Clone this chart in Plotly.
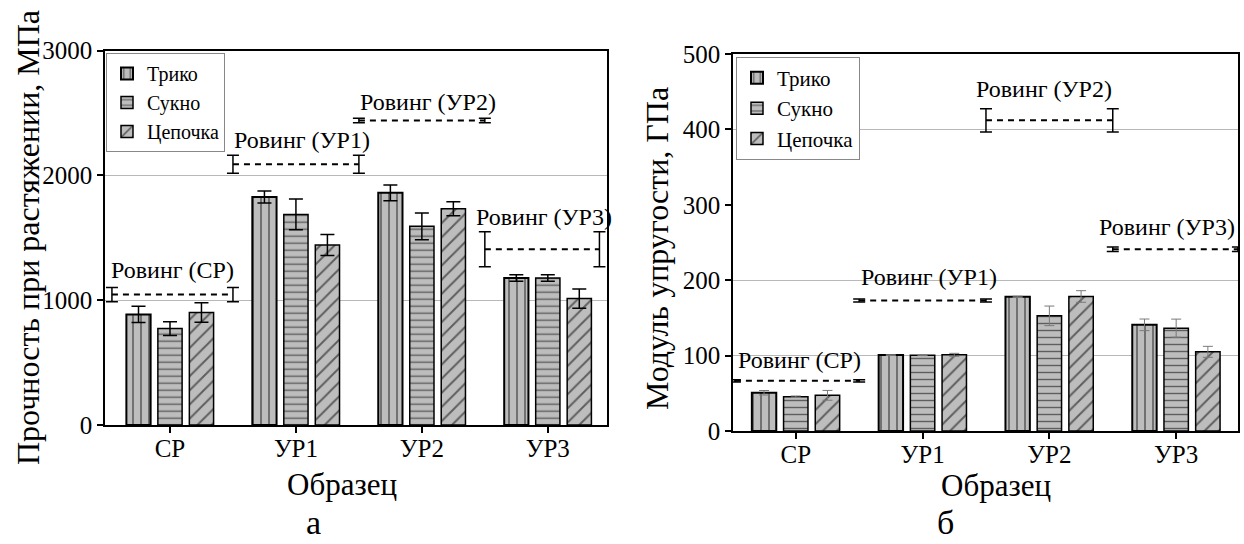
import plotly.graph_objects as go

# ---------------- data ----------------
categories = ["СР", "УР1", "УР2", "УР3"]
series_names = ["Трико", "Сукно", "Цепочка"]

# (a) tensile strength, MPa
strength_triko = [886, 1827, 1861, 1179]
strength_triko_err = [65, 48, 63, 26]
strength_sukno = [773, 1688, 1592, 1179]
strength_sukno_err = [55, 124, 107, 26]
strength_chain = [901, 1443, 1733, 1013]
strength_chain_err = [78, 84, 56, 78]
strength_roving = [1045, 2090, 2440, 1408]
strength_roving_err = [58, 72, 18, 140]

# (б) elastic modulus, GPa
modulus_triko = [50.7, 100.7, 177.9, 140.8]
modulus_triko_err = [3, 0.5, 0.8, 7.7]
modulus_sukno = [45.4, 100.5, 152.7, 136.4]
modulus_sukno_err = [1, 0.5, 13, 12]
modulus_chain = [47.3, 101, 178.4, 105]
modulus_chain_err = [6.5, 2, 7.7, 7.3]
modulus_roving = [66.6, 173, 412, 241]
modulus_roving_err = [1.5, 2, 15.5, 3]

roving_labels = ["Ровинг (СР)", "Ровинг (УР1)", "Ровинг (УР2)", "Ровинг (УР3)"]

# gridlines visible in panel б
modulus_grid = [100, 200, 400]

# ---------------- styling ----------------
W, H = 1244, 544
FONT = "Liberation Serif"
BAR_FILL = "#bdbdbd"
PATTERNS = ["|", "-", "/"]
PAT_SIZE = [8, 7, 10]
GRID = "#b8b8b8"

# plot areas in pixels (left, right, top, bottom)
AREA_A = (105, 607, 50.7, 425)
AREA_B = (733, 1238.3, 54, 431)
XR_A = [-0.516, 3.47]
XR_B = [-0.495, 3.49]


def dom_x(a):
    return [a[0] / W, a[1] / W]


def dom_y(a):
    return [1 - a[3] / H, 1 - a[2] / H]


fig = go.Figure()
idx = list(range(len(categories)))

sets = [
    ("x", "y", "legend",
     [strength_triko, strength_sukno, strength_chain],
     [strength_triko_err, strength_sukno_err, strength_chain_err],
     strength_roving, strength_roving_err, XR_A, 0.055, 0.06,
     dict(color="black", thickness=1.5, width=7)),
    ("x2", "y2", "legend2",
     [modulus_triko, modulus_sukno, modulus_chain],
     [modulus_triko_err, modulus_sukno_err, modulus_chain_err],
     modulus_roving, modulus_roving_err, XR_B, 0.015, 0.003,
     dict(color="#7a7a7a", thickness=1, width=5)),
]

for xa, ya, leg, vals, errs, rv, re, xr, lpad, rpad, estyle in sets:
    for k, name in enumerate(series_names):
        fig.add_trace(go.Bar(
            x=idx, y=vals[k], name=name, xaxis=xa, yaxis=ya, legend=leg,
            marker=dict(
                color=BAR_FILL,
                line=dict(color="black", width=2 if k == 0 else 1.5),
                pattern=dict(shape=PATTERNS[k], fgcolor="black", bgcolor=BAR_FILL,
                             size=PAT_SIZE[k], solidity=0.2, fillmode="overlay"),
            ),
            error_y=dict(type="data", array=errs[k], visible=True, **estyle),
        ))
    for i in idx:
        x0 = max(i - 0.5, xr[0] + lpad)
        x1 = min(i + 0.5, xr[1] - rpad)
        fig.add_trace(go.Scatter(
            x=[x0, x1], y=[rv[i], rv[i]], mode="lines", xaxis=xa, yaxis=ya,
            showlegend=False, hoverinfo="skip",
            line=dict(color="black", width=2, dash="6px,5px"),
            error_y=dict(type="data", array=[re[i], re[i]], visible=True,
                         color="black", thickness=1.5, width=6),
        ))

axis_font = dict(family=FONT, size=25, color="black")

common_x = dict(tickvals=idx, ticktext=categories, ticks="outside", ticklen=6,
                tickwidth=1.5, tickcolor="black", showline=True, linecolor="black",
                linewidth=1.5, mirror=True, showgrid=False, zeroline=False,
                tickfont=axis_font, automargin=False, ticklabelstandoff=-6)
common_y = dict(ticks="outside", ticklen=6, tickwidth=1.5, tickcolor="black",
                showline=True, linecolor="black", linewidth=1.5, mirror=True,
                zeroline=False, tickfont=axis_font, automargin=False)
overlay_x = dict(side="top", tickvals=idx, ticks="inside", ticklen=6, tickwidth=1.5,
                 tickcolor="black", showticklabels=False, showline=False,
                 showgrid=False, zeroline=False, automargin=False)
overlay_y = dict(side="right", ticks="inside", ticklen=6, tickwidth=1.5,
                 tickcolor="black", showticklabels=False, showline=False,
                 showgrid=False, zeroline=False, automargin=False)

fig.update_layout(
    width=W, height=H, margin=dict(l=0, r=0, t=0, b=0, pad=0, autoexpand=False),
    paper_bgcolor="white", plot_bgcolor="white",
    barmode="group", bargap=0.25, bargroupgap=0.23,
    font=dict(family=FONT, color="black"),
    showlegend=True,
    xaxis=dict(domain=dom_x(AREA_A), range=XR_A, anchor="y", **common_x),
    yaxis=dict(domain=dom_y(AREA_A), range=[0, 3000], dtick=1000, anchor="x",
               showgrid=True, gridcolor=GRID, gridwidth=1, **common_y),
    xaxis2=dict(domain=dom_x(AREA_B), range=XR_B, anchor="y2", **common_x),
    yaxis2=dict(domain=dom_y(AREA_B), range=[0, 500], dtick=100, anchor="x2",
                showgrid=False,
                minor=dict(tickvals=modulus_grid, showgrid=True, gridcolor=GRID,
                           gridwidth=1, ticks=""),
                **common_y),
    xaxis3=dict(overlaying="x", anchor="y", range=XR_A, **overlay_x),
    yaxis3=dict(overlaying="y", anchor="x", range=[0, 3000], dtick=1000, **overlay_y),
    xaxis4=dict(overlaying="x2", anchor="y2", range=XR_B, **overlay_x),
    yaxis4=dict(overlaying="y2", anchor="x2", range=[0, 500], dtick=100, **overlay_y),
    legend=dict(x=106 / W, y=1 - 53 / H, xanchor="left", yanchor="top",
                bgcolor="white", bordercolor="#888888", borderwidth=1,
                font=dict(family=FONT, size=20, color="black"),
                tracegroupgap=0, itemwidth=30),
    legend2=dict(x=736 / W, y=1 - 56.7 / H, xanchor="left", yanchor="top",
                 bgcolor="white", bordercolor="#888888", borderwidth=1,
                 font=dict(family=FONT, size=21, color="black"),
                 tracegroupgap=0, itemwidth=30),
)

# axis titles and panel letters (pixel positions)
texts = [
    ("Прочность при растяжении, МПа", 28, 238, -90, 32),
    ("Образец", 342, 484, 0, 31),
    ("а", 314, 522, 0, 34),
    ("Модуль упругости, ГПа", 657, 249, -90, 32),
    ("Образец", 996, 485, 0, 31),
    ("б", 946, 522, 0, 34),
]
for t, px, py, ang, sz in texts:
    fig.add_annotation(text=t, x=px / W, y=1 - py / H, xref="paper", yref="paper",
                       xanchor="center", yanchor="middle", textangle=ang,
                       showarrow=False, font=dict(family=FONT, size=sz, color="black"))

# roving labels: anchored to category and roving value, shifted in px
label_shift_a = [(3, 25), (6, 24), (6, 19), (-4, 32)]
label_shift_b = [(4, 21), (6, 24), (-5, 31), (-9, 22)]
for xa, ya, rv, shifts in [("x", "y", strength_roving, label_shift_a),
                           ("x2", "y2", modulus_roving, label_shift_b)]:
    for i in idx:
        fig.add_annotation(text=roving_labels[i], x=i, y=rv[i], xref=xa, yref=ya,
                           xshift=shifts[i][0], yshift=shifts[i][1],
                           xanchor="center", yanchor="middle", showarrow=False,
                           font=dict(family=FONT, size=24, color="black"))

fig.write_html("out.html")
